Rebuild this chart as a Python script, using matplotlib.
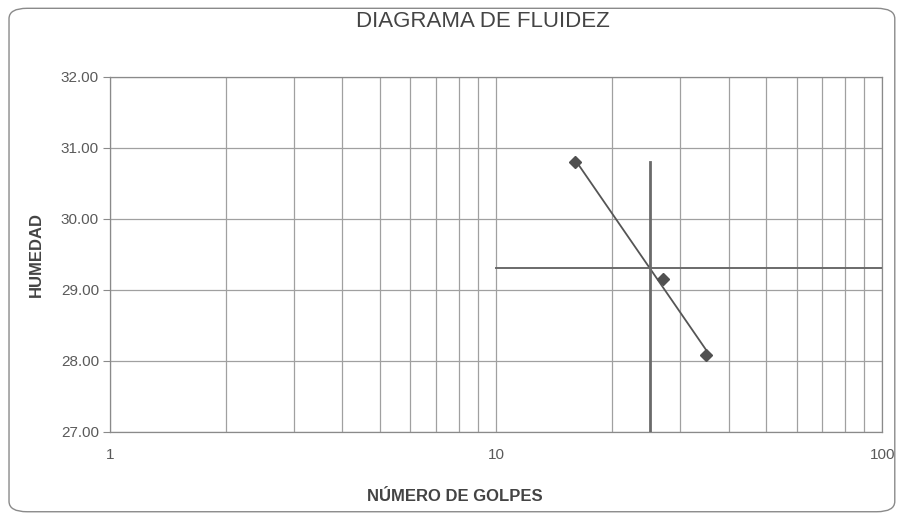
import numpy as np
import matplotlib
matplotlib.use("Agg")
import matplotlib.pyplot as plt
from matplotlib.patches import FancyBboxPatch
from matplotlib.ticker import FixedLocator, NullFormatter

# Data
golpes = [16, 27, 35]
humedad = [30.80, 29.15, 28.08]
limite_golpes = 25
y_ticks = [27, 28, 29, 30, 31, 32]
x_ticks = [1, 10, 100]
title = "DIAGRAMA DE FLUIDEZ"
xlabel = "NÚMERO DE GOLPES"
ylabel = "HUMEDAD"

plt.rcParams['font.family'] = ['Liberation Sans', 'DejaVu Sans']

fig = plt.figure(figsize=(9.02, 5.19), dpi=100)
fig.patch.set_facecolor('white')
border = FancyBboxPatch((0.010, 0.014), 0.982, 0.970, boxstyle="round,pad=0,rounding_size=0.02",
                        transform=fig.transFigure, fill=False, edgecolor='#8a8a8a', linewidth=1.0)
fig.patches.append(border)

ax = fig.add_axes([0.122, 0.168, 0.856, 0.684])
ax.set_xscale('log')
ax.set_xlim(1, 100)
ax.set_ylim(27, 32)

# gridlines
ax.xaxis.set_minor_locator(FixedLocator([i * d for d in (1, 10) for i in range(2, 10)]))
ax.xaxis.set_minor_formatter(NullFormatter())
ax.set_xticks(x_ticks)
ax.set_xticklabels([str(v) for v in x_ticks])
ax.set_yticks(y_ticks)
ax.set_yticklabels([f"{v:.2f}" for v in y_ticks])
ax.grid(True, which='both', axis='x', color='#a0a0a0', linewidth=0.9)
ax.grid(True, which='major', axis='y', color='#a0a0a0', linewidth=0.9)
ax.set_axisbelow(True)
for s in ax.spines.values():
    s.set_color('#8a8a8a')
    s.set_linewidth(0.9)
ax.tick_params(axis='both', which='both', colors='#8a8a8a', labelcolor='#5a5a5a', labelsize=11)
ax.tick_params(axis='x', which='minor', length=0)
ax.tick_params(axis='x', which='major', length=0, pad=12)
ax.tick_params(axis='y', length=5, pad=3)

# trend line (linear in log x)
lx = np.log10(golpes)
slope, intercept = np.polyfit(lx, humedad, 1)
xs = np.array([golpes[0], golpes[-1]])
ax.plot(xs, slope * np.log10(xs) + intercept, color='#555555', linewidth=1.3, zorder=3)
ll = slope * np.log10(limite_golpes) + intercept

# liquid limit reference lines
ax.plot([limite_golpes, limite_golpes], [27, humedad[0]], color='#6a6a6a', linewidth=2.0, zorder=3)
ax.plot([10, 100], [ll, ll], color='#6a6a6a', linewidth=1.4, zorder=3)

ax.plot(golpes, humedad, linestyle='none', marker='D', markersize=6,
        color='#505050', zorder=4)

fig.text(0.535, 0.958, title, ha='center', va='center', fontsize=16, color='#444444')
ax.set_xlabel(xlabel, fontsize=12, fontweight='bold', color='#444444')
ax.xaxis.set_label_coords(0.447, -0.160)
ax.set_ylabel(ylabel, fontsize=12, fontweight='bold', color='#444444', labelpad=12)

fig.savefig('out.png', dpi=100)
